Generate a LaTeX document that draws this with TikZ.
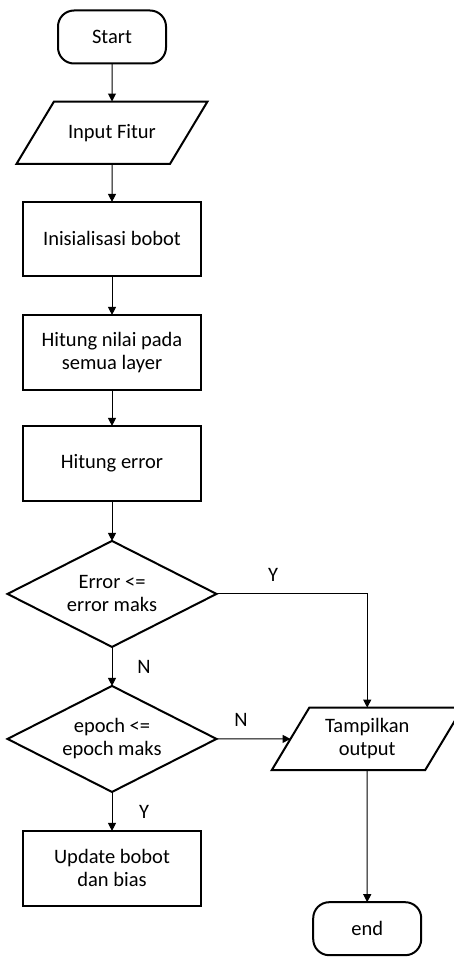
\documentclass[tikz,border=0pt]{standalone}
\usepackage{fontspec}
\setmainfont{Carlito}
\usetikzlibrary{positioning}
\usetikzlibrary{arrows.meta}
\usetikzlibrary{shapes.geometric}

\begin{document}
\begin{tikzpicture}[>={Triangle[length=8pt,width=8pt]}, x=1pt, y=1pt, font=\fontsize{20.5}{23}\selectfont]
    \tikzset{block/.style= {draw, rectangle, line width=2pt, align=center, minimum width=178pt, minimum height=75pt, outer sep=0pt},
             terminal/.style= {draw, rectangle, rounded corners=16pt, line width=2pt, minimum width=108pt, minimum height=53pt, outer sep=0pt},
             io/.style= {draw, trapezium, trapezium left angle=59, trapezium right angle=121, trapezium stretches body, line width=2pt, align=center, inner xsep=0pt, minimum width=191pt, outer sep=0pt},
             decision/.style= {draw, diamond, aspect=2, inner sep=0pt, line width=2pt, align=center, minimum width=209pt, minimum height=106pt, outer sep=0pt},
             lbl/.style= {inner sep=0pt},}

    \useasboundingbox (0,0) rectangle (454,-958);

    \node [terminal] (start) at (112,-37) {Start};
    \node [io, inner ysep=22.5pt, below =38pt of start] (inp) {Input Fitur};
    \node [block, below =38pt of inp, minimum height=74pt] (init) {Inisialisasi bobot};
    \node [block, below =39pt of init] (hit) {Hitung nilai pada\\semua layer};
    \node [block, below =36pt of hit] (err) {Hitung error};
    \node [decision, below =40pt of err] (cekerr) {Error <=\\error maks};
    \node [decision, below =39pt of cekerr] (cekep) {epoch <=\\epoch maks};
    \node [block, below =39pt of cekep] (upd) {Update bobot\\dan bias};
    \node [io, inner ysep=11pt, right =74pt of cekep] (out) {Tampilkan\\output};
    \node [terminal, below =132pt of out] (end) {end};

    \node [lbl] (y1) at (273,-575) {Y};
    \node [lbl] (n1) at (144,-667) {N};
    \node [lbl] (n2) at (241,-720) {N};
    \node [lbl] (y2) at (144,-812) {Y};

    \path[draw,->,line width=1pt]
                (start) edge (inp)
                (inp) edge (init)
                (init) edge (hit)
                (hit) edge (err)
                (err) edge (cekerr)
                (cekerr) edge (cekep)
                (cekep) edge (upd)
                (cekep) edge (out)
                (out) edge (end)
                ;

    \draw[->,line width=1pt] (cekerr.east) -| (out.north);
\end{tikzpicture}
\end{document}
